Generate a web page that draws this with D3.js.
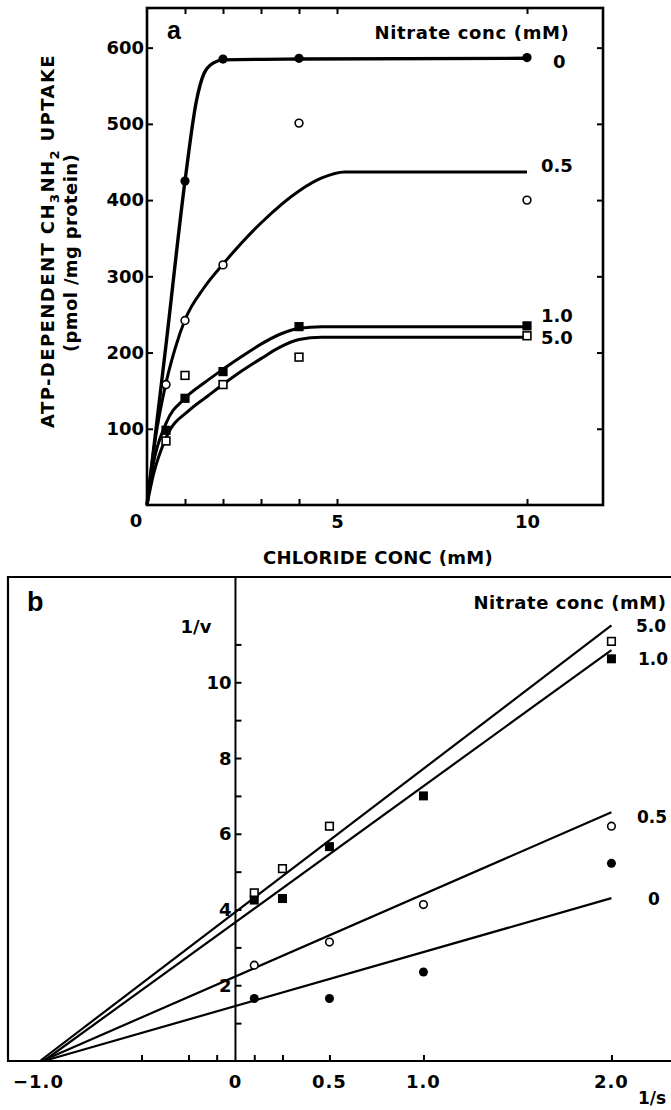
<!DOCTYPE html>
<html>
<head>
<meta charset="utf-8">
<script src="https://cdn.jsdelivr.net/npm/d3@7"></script>
<style>
  body { margin: 0; background: #fff; }
  svg text { font-family: 'DejaVu Sans', sans-serif; font-weight: bold; font-size: 18px; fill: #000; }
</style>
</head>
<body>
<div id="chart"></div>
<script>
// nitrate concentration of each series (mM) and its symbol
const nitrate = ['0', '0.5', '1.0', '5.0'];
const symbols = ['filledCircle', 'openCircle', 'filledSquare', 'openSquare'];

// panel a: ATP-dependent uptake (pmol/mg protein) vs chloride (mM)
const chloride = [0.5, 1, 2, 4, 10];
const uptake0 = [null, 425, 585, 586, 587];
const uptake05 = [158, 242, 315, 501, 400];
const uptake1 = [98, 140, 175, 234, 235];
const uptake5 = [84, 170, 158, 194, 222];

// hand-drawn curves of panel a as [chloride, uptake]
const curve0 = [[0, 0], [0.5, 210], [1, 425], [1.3, 530], [1.5, 566], [1.75, 580], [2, 584], [4, 585], [10, 586]];
const curve05 = [[0, 0], [0.2, 80], [0.5, 160], [0.75, 207], [1, 243], [1.5, 285], [2, 316], [3, 370], [4, 412], [4.6, 429], [5.2, 437], [10, 437]];
const curve1 = [[0, 0], [0.15, 50], [0.5, 107], [1, 140], [1.5, 160], [2, 178], [2.5, 195], [3, 211], [3.5, 224], [4, 232], [4.6, 234], [10, 234]];
const curve5 = [[0, 0], [0.17, 40], [0.5, 88], [1.13, 125], [1.6, 143], [2.05, 160], [2.5, 176], [3, 192], [3.5, 207], [4, 217], [4.6, 220], [10, 220]];

const aXTicks = [1, 2, 3, 4, 5, 10];
const aXLabels = [5, 10];
const aYTicks = [100, 200, 300, 400, 500, 600];

// panel b: double reciprocal plot, 1/v vs 1/s
const invS = [0.1, 0.25, 0.5, 1.0, 2.0];
const invV0 = [1.65, null, 1.65, 2.35, 5.22];
const invV05 = [2.53, null, 3.14, 4.13, 6.2];
const invV1 = [4.25, 4.29, 5.66, 7.0, 10.62];
const invV5 = [4.44, 5.08, 6.2, null, 11.08];

// fitted lines: x intercept (1/v = 0) and 1/v reached at 1/s = 2.0
const lineXInt = [-1.02, -1.03, -1.02, -1.04];
const lineEnd = [4.3, 6.57, 10.85, 11.5];

const bXTicks = [-0.5, -0.25, -0.1, 0.1, 0.25, 0.5, 1.0, 2.0];
const bXLabels = [-1.0, 0, 0.5, 1.0, 2.0];
const bYTicks = [1, 2, 3, 4, 5, 6, 7, 8, 9, 10, 11];
const bYLabels = [2, 4, 6, 8, 10];

const svg = d3.select('#chart')
    .append('svg')
    .attr('width', 671)
    .attr('height', 1110);

// stretch a label to the width it has in the figure
function fitWidth(sel, target) {
    sel.each(function () {
        const t = d3.select(this).style('letter-spacing', '0px');
        const w = this.getComputedTextLength();
        const n = this.getNumberOfChars();
        t.style('letter-spacing', `${(target - w) / n}px`);
    });
}

function drawMarkers(g, pts, sym, r) {
    const filled = sym.startsWith('filled');
    if (sym.endsWith('Circle')) {
        g.selectAll(null)
            .data(pts)
            .join('circle')
            .attr('cx', d => d[0])
            .attr('cy', d => d[1])
            .attr('r', filled ? r : r - 0.7)
            .attr('fill', filled ? '#000' : '#fff')
            .attr('stroke', '#000')
            .attr('stroke-width', filled ? 0 : 1.6);
    } else {
        const s = filled ? r * 2 : r * 2 - 1.4;
        g.selectAll(null)
            .data(pts)
            .join('rect')
            .attr('x', d => d[0] - s / 2)
            .attr('y', d => d[1] - s / 2)
            .attr('width', s)
            .attr('height', s)
            .attr('fill', filled ? '#000' : '#fff')
            .attr('stroke', '#000')
            .attr('stroke-width', filled ? 0 : 1.6);
    }
}

function styleAxis(g) {
    g.select('.domain').remove();
    g.selectAll('.tick line').attr('stroke-width', 2);
    g.attr('font-size', null).attr('font-family', null);
}

// ---------- panel a ----------
const xa = d3.scaleLinear().domain([0, 12]).range([147, 603]);
const ya = d3.scaleLinear().domain([0, 652]).range([505, 8]);
const ga = svg.append('g');

ga.append('g')
    .attr('transform', `translate(0,${ya(0)})`)
    .call(d3.axisBottom(xa).tickValues(aXTicks).tickSize(-6).tickPadding(10)
        .tickFormat(d => aXLabels.includes(d) ? d : ''))
    .call(styleAxis);

ga.append('g')
    .attr('transform', `translate(0,${ya(652)})`)
    .call(d3.axisTop(xa).tickValues(aXTicks).tickSize(-6).tickFormat(''))
    .call(styleAxis);

ga.append('g')
    .attr('transform', `translate(${xa(0)},0)`)
    .call(d3.axisLeft(ya).tickValues(aYTicks).tickSize(-6).tickPadding(3))
    .call(styleAxis);

ga.append('g')
    .attr('transform', `translate(${xa(12)},0)`)
    .call(d3.axisRight(ya).tickValues(aYTicks).tickSize(-6).tickFormat(''))
    .call(styleAxis);

ga.append('rect')
    .attr('x', xa(0))
    .attr('y', ya(652))
    .attr('width', xa(12) - xa(0))
    .attr('height', ya(0) - ya(652))
    .attr('fill', 'none')
    .attr('stroke', '#000')
    .attr('stroke-width', 2.6);

ga.append('text')
    .attr('x', xa(0) - 11)
    .attr('y', 527)
    .attr('text-anchor', 'middle')
    .text('0');

const curveLine = d3.line()
    .x(d => xa(d[0]))
    .y(d => ya(d[1]))
    .curve(d3.curveMonotoneX);

[curve0, curve05, curve1, curve5].forEach((c, i) => {
    ga.append('path')
        .attr('d', curveLine(c))
        .attr('fill', 'none')
        .attr('stroke', '#000')
        .attr('stroke-width', i === 0 ? 3.4 : 3)
        .attr('stroke-linejoin', 'round');
});

const uptake = [uptake0, uptake05, uptake1, uptake5];
[3, 2, 1, 0].forEach(i => {
    const pts = chloride
        .map((c, j) => [c, uptake[i][j]])
        .filter(d => d[1] !== null)
        .map(d => [xa(d[0]), ya(d[1])]);
    drawMarkers(ga.append('g'), pts, symbols[i], 4.6);
});

ga.append('text')
    .attr('x', 167)
    .attr('y', 39)
    .style('font-family', "'Liberation Sans', Arial, sans-serif")
    .style('font-size', '25px')
    .text('a');

ga.append('text')
    .attr('x', 472)
    .attr('y', 39)
    .attr('text-anchor', 'middle')
    .text('Nitrate conc (mM)')
    .call(fitWidth, 195);

const aConcPos = [[553, 68], [541, 172], [541, 322], [541, 344]];
nitrate.forEach((n, i) => {
    ga.append('text')
        .attr('x', aConcPos[i][0])
        .attr('y', aConcPos[i][1])
        .text(n);
});

ga.append('text')
    .attr('x', 378)
    .attr('y', 564)
    .attr('text-anchor', 'middle')
    .text('CHLORIDE CONC (mM)')
    .call(fitWidth, 230);

const yTitle = ga.append('text')
    .attr('transform', 'translate(54,241) rotate(-90)')
    .attr('text-anchor', 'middle');
yTitle.append('tspan').text('ATP-DEPENDENT CH');
yTitle.append('tspan').attr('dy', 5).style('font-size', '13px').text('3');
yTitle.append('tspan').attr('dy', -5).text('NH');
yTitle.append('tspan').attr('dy', 5).style('font-size', '13px').text('2');
yTitle.append('tspan').attr('dy', -5).text(' UPTAKE');
yTitle.call(fitWidth, 374);

ga.append('text')
    .attr('transform', 'translate(77,253) rotate(-90)')
    .attr('text-anchor', 'middle')
    .text('(pmol /mg protein)')
    .call(fitWidth, 198);

// ---------- panel b ----------
const xb = d3.scaleLinear().domain([-1.21, 2.32]).range([8, 671.6]);
const yb = d3.scaleLinear().domain([0, 12.78]).range([1061, 577]);
const gb = svg.append('g');

gb.append('g')
    .attr('transform', `translate(0,${yb(0)})`)
    .call(d3.axisBottom(xb).tickValues(bXTicks).tickSize(-6).tickFormat(''))
    .call(styleAxis);

gb.append('g')
    .attr('transform', `translate(${xb(0)},0)`)
    .call(d3.axisRight(yb).tickValues(bYTicks).tickSize(6).tickFormat(''))
    .call(styleAxis);

gb.append('path')
    .attr('d', `M${xb(2.32)},${yb(12.78)}H${xb(-1.21)}V${yb(0)}H${xb(2.32)}`)
    .attr('fill', 'none')
    .attr('stroke', '#000')
    .attr('stroke-width', 2.2);

gb.append('line')
    .attr('x1', xb(0)).attr('x2', xb(0))
    .attr('y1', yb(0)).attr('y2', yb(12.78))
    .attr('stroke', '#000')
    .attr('stroke-width', 2);

gb.selectAll('.xlab')
    .data(bXLabels)
    .join('text')
    .attr('class', 'xlab')
    .attr('x', d => xb(d) - (d < 0 ? 9 : 0))
    .attr('y', 1088)
    .attr('text-anchor', 'middle')
    .text(d => d === 0 ? '0' : (d < 0 ? '\u2212' : '') + Math.abs(d).toFixed(1))
    .style('letter-spacing', '1px');

gb.selectAll('.ylab')
    .data(bYLabels)
    .join('text')
    .attr('class', 'ylab')
    .attr('x', xb(0) - 4)
    .attr('y', d => yb(d))
    .attr('dy', '0.36em')
    .attr('text-anchor', 'end')
    .text(d => d);

const invV = [invV0, invV05, invV1, invV5];
invV.forEach((s, i) => {
    gb.append('line')
        .attr('x1', xb(lineXInt[i]))
        .attr('y1', yb(0))
        .attr('x2', xb(2.0))
        .attr('y2', yb(lineEnd[i]))
        .attr('stroke', '#000')
        .attr('stroke-width', 2.2);
});

[3, 2, 1, 0].forEach(i => {
    const pts = invS
        .map((x, j) => [x, invV[i][j]])
        .filter(d => d[1] !== null)
        .map(d => [xb(d[0]), yb(d[1])]);
    drawMarkers(gb.append('g'), pts, symbols[i], 4.5);
});

gb.append('text')
    .attr('x', 27)
    .attr('y', 611)
    .style('font-family', "'Liberation Sans', Arial, sans-serif")
    .style('font-size', '27px')
    .text('b');

gb.append('text')
    .attr('x', 196)
    .attr('y', 633)
    .attr('text-anchor', 'middle')
    .text('1/v');

gb.append('text')
    .attr('x', 570)
    .attr('y', 609)
    .attr('text-anchor', 'middle')
    .text('Nitrate conc (mM)')
    .call(fitWidth, 193);

const bConcPos = [[648, 905], [637, 823], [638, 665], [636, 632]];
nitrate.forEach((n, i) => {
    gb.append('text')
        .attr('x', bConcPos[i][0])
        .attr('y', bConcPos[i][1])
        .style('font-size', '17px')
        .text(n);
});

gb.append('text')
    .attr('x', 638)
    .attr('y', 1104)
    .style('font-size', '17px')
    .text('1/s');
</script>
</body>
</html>
